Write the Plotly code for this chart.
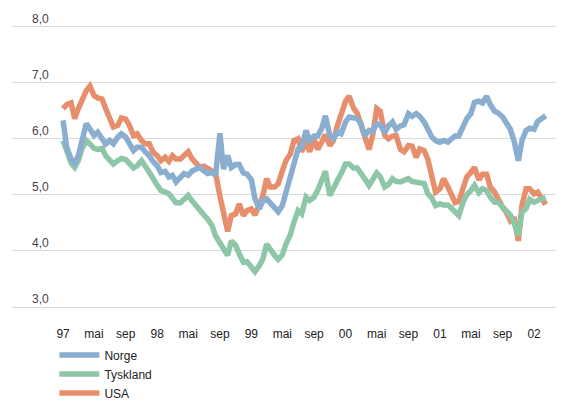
import pandas as pd
import plotly.graph_objects as go

# Semi-monthly observation dates (1st and 15th of each month), Jan 1997 - Feb 2002
dates = pd.date_range("1997-01-01", periods=124, freq="SMS")

norge = [
    6.33, 5.85, 5.64, 5.57, 5.70, 6.00, 6.27, 6.18, 6.06, 6.12, 6.00, 5.91, 5.97, 5.91, 6.03, 6.09, 6.03, 5.91, 5.79, 5.85,
    5.85, 5.77, 5.70, 5.60, 5.52, 5.40, 5.42, 5.32, 5.35, 5.23, 5.32, 5.38, 5.35, 5.42, 5.46, 5.49, 5.43, 5.38, 5.40, 5.35,
    6.10, 5.46, 5.70, 5.49, 5.54, 5.54, 5.39, 5.37, 5.27, 4.93, 4.75, 4.90, 4.93, 4.86, 4.78, 4.70, 4.81, 5.05, 5.26, 5.55,
    5.82, 5.85, 6.15, 5.97, 6.05, 6.05, 6.19, 6.41, 6.06, 6.00, 6.12, 6.09, 6.30, 6.39, 6.36, 6.36, 6.27, 6.05, 6.15, 6.13,
    6.27, 6.25, 6.11, 6.23, 6.30, 6.17, 6.23, 6.25, 6.45, 6.40, 6.45, 6.40, 6.30, 6.15, 6.03, 5.97, 5.94, 5.97, 5.94, 6.00,
    6.05, 6.05, 6.24, 6.36, 6.45, 6.65, 6.67, 6.64, 6.76, 6.61, 6.49, 6.46, 6.39, 6.27, 6.17, 5.97, 5.61, 5.97, 6.15, 6.19,
    6.17, 6.31, 6.36, 6.41,
]

tyskland = [
    5.97, 5.79, 5.57, 5.49, 5.61, 5.82, 5.97, 5.91, 5.83, 5.81, 5.83, 5.70, 5.60, 5.55, 5.61, 5.65, 5.63, 5.57, 5.48, 5.52,
    5.61, 5.52, 5.42, 5.30, 5.17, 5.08, 5.05, 5.02, 4.94, 4.86, 4.86, 4.92, 4.99, 4.90, 4.80, 4.70, 4.64, 4.57, 4.46, 4.27,
    4.15, 4.07, 3.92, 4.18, 4.10, 3.95, 3.80, 3.81, 3.71, 3.63, 3.74, 3.86, 4.12, 4.02, 3.92, 3.85, 3.93, 4.12, 4.29, 4.51,
    4.72, 4.66, 4.96, 4.90, 4.96, 5.08, 5.24, 5.42, 4.99, 5.14, 5.26, 5.38, 5.55, 5.55, 5.48, 5.48, 5.36, 5.29, 5.17, 5.27,
    5.39, 5.32, 5.14, 5.18, 5.29, 5.24, 5.23, 5.26, 5.29, 5.24, 5.23, 5.23, 5.20, 5.02, 4.94, 4.81, 4.84, 4.82, 4.82, 4.76,
    4.70, 4.63, 4.87, 5.00, 5.08, 5.17, 5.04, 5.11, 5.08, 4.96, 4.87, 4.87, 4.78, 4.72, 4.64, 4.51, 4.27, 4.69, 4.76, 4.92,
    4.87, 4.90, 4.93, 4.95,
]

usa = [
    6.54, 6.61, 6.64, 6.36, 6.54, 6.71, 6.86, 6.94, 6.77, 6.73, 6.71, 6.54, 6.39, 6.21, 6.24, 6.37, 6.35, 6.24, 6.06, 6.09,
    5.97, 5.91, 5.91, 5.77, 5.70, 5.61, 5.67, 5.60, 5.70, 5.64, 5.64, 5.70, 5.77, 5.65, 5.55, 5.49, 5.51, 5.48, 5.43, 5.39,
    4.98, 4.63, 4.35, 4.63, 4.66, 4.84, 4.63, 4.72, 4.75, 4.64, 4.87, 4.99, 5.29, 5.14, 5.14, 5.20, 5.43, 5.61, 5.73, 5.97,
    6.00, 5.77, 5.95, 5.77, 6.00, 5.81, 5.95, 6.07, 5.88, 5.97, 6.24, 6.42, 6.67, 6.76, 6.55, 6.46, 6.24, 6.03, 5.81, 6.06,
    6.54, 6.49, 6.06, 6.00, 6.05, 6.06, 5.81, 5.77, 5.88, 5.87, 5.67, 5.82, 5.79, 5.64, 5.35, 5.05, 5.11, 5.29, 5.14, 5.02,
    4.86, 4.88, 5.11, 5.32, 5.40, 5.49, 5.27, 5.37, 5.37, 5.14, 5.05, 4.92, 4.78, 4.69, 4.54, 4.60, 4.18, 4.81, 5.11, 5.11,
    5.02, 5.05, 4.93, 4.83,
]

x_tickvals = ["1997-01-01", "1997-05-01", "1997-09-01", "1998-01-01", "1998-05-01", "1998-09-01",
              "1999-01-01", "1999-05-01", "1999-09-01", "2000-01-01", "2000-05-01", "2000-09-01",
              "2001-01-01", "2001-05-01", "2001-09-01", "2002-01-01"]
x_ticktext = ["97", "mai", "sep", "98", "mai", "sep", "99", "mai", "sep",
              "00", "mai", "sep", "01", "mai", "sep", "02"]
y_tickvals = [3, 4, 5, 6, 7, 8]

colors = {"Norge": "#89AED0", "Tyskland": "#8EC6A8", "USA": "#E78F6D"}

fig = go.Figure()
for name, vals in [("USA", usa), ("Tyskland", tyskland), ("Norge", norge)]:
    fig.add_trace(go.Scatter(
        x=dates, y=vals, name=name, mode="lines",
        line=dict(color=colors[name], width=5.5),
    ))

fig.update_layout(
    width=564, height=401,
    margin=dict(l=4, r=0, t=0, b=99, autoexpand=False),
    paper_bgcolor="white", plot_bgcolor="white",
    separators=", ",
    font=dict(family="Liberation Sans, Arial, sans-serif", size=12, color="#222222"),
    showlegend=True,
    legend=dict(
        orientation="v", x=0.0757, y=-0.1012, xanchor="left", yanchor="top",
        traceorder="reversed", itemwidth=40, font=dict(size=12, color="#222222"),
        bgcolor="rgba(0,0,0,0)",
    ),
)
fig.update_xaxes(
    range=["1996-06-17", "2002-05-28"],
    tickmode="array", tickvals=x_tickvals, ticktext=x_ticktext,
    showgrid=False, zeroline=False, showline=False, ticks="",
    ticklabelstandoff=15,
)
fig.update_yaxes(
    range=[2.9465, 8.3336], tickmode="array", tickvals=y_tickvals, tickformat=".1f",
    showgrid=True, gridcolor="#DADADA", gridwidth=1.2, zeroline=False, showline=False,
    ticks="", ticklabelposition="inside top", ticklabelstandoff=17,
)

fig.write_html("out.html")
